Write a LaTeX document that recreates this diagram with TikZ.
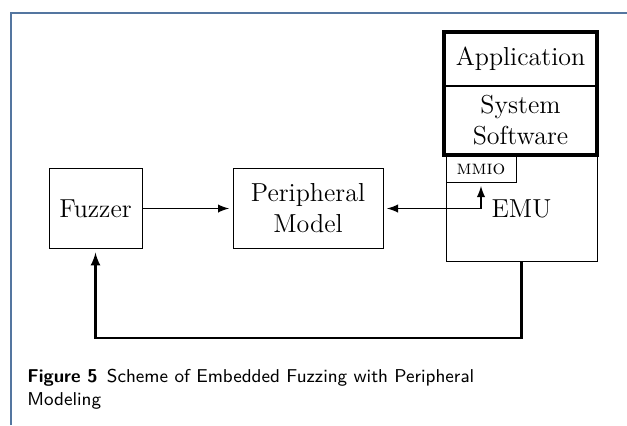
\documentclass[tikz,border=0pt]{standalone}
\usepackage{amsmath}
\usepackage{tikz}
\usetikzlibrary{positioning}

\definecolor{framecol}{RGB}{84,118,160}

\begin{document}
\begin{tikzpicture}[x=0.5pt, y=-0.5pt, blk/.style={draw, rectangle, line width=0.5pt, font=\fontsize{13}{15.5}\selectfont, align=center, inner sep=0pt, outer sep=0pt}, n/.style={-latex, line width=0.9pt, shorten >=2pt}, b/.style={latex-latex, line width=0.9pt, shorten >=2pt, shorten <=2pt}]
    \useasboundingbox (0,0) rectangle (627,425);
    % frame
    \draw[framecol, line width=1pt] (11,425) |- (627,13);
    % nodes
    \node[blk, minimum width=46.5pt, minimum height=40pt] (fuzz) at (95.5,208.5) {Fuzzer};
    \node[blk, minimum width=75pt, minimum height=40pt] (pm) at (308,208.5) {Peripheral\\Model};
    \node[blk, minimum width=75.5pt, minimum height=52.5pt] (emu) at (521.5,208.5) {EMU};
    \node[blk, anchor=north west, minimum width=35pt, minimum height=13pt, font=\fontsize{10}{12}\selectfont] (mmio) at (emu.north west) {\textsc{mmio}};
    \node[blk, line width=1pt, minimum width=76.5pt, minimum height=27pt] (app) at (520.5,59) {Application};
    \node[blk, line width=1pt, minimum width=76.5pt, minimum height=34.5pt, below=0pt of app] (sw) {System\\Software};
    \draw[line width=2pt] (app.north west) rectangle (sw.south east);
    % edges
    \draw[n] (fuzz) -- (pm);
    \draw[b] (pm.east) -| (mmio.south);
    \draw[n, line width=1.2pt] (emu.south) -- ++(0,77) -| (fuzz.south);
    % caption
    \node[anchor=north west, align=left, inner sep=0pt, font=\sffamily\fontsize{9.3}{11.5}\selectfont] (cap) at (27,369) {\textbf{Figure 5}\enspace Scheme of Embedded Fuzzing with Peripheral\\Modeling};
\end{tikzpicture}
\end{document}
